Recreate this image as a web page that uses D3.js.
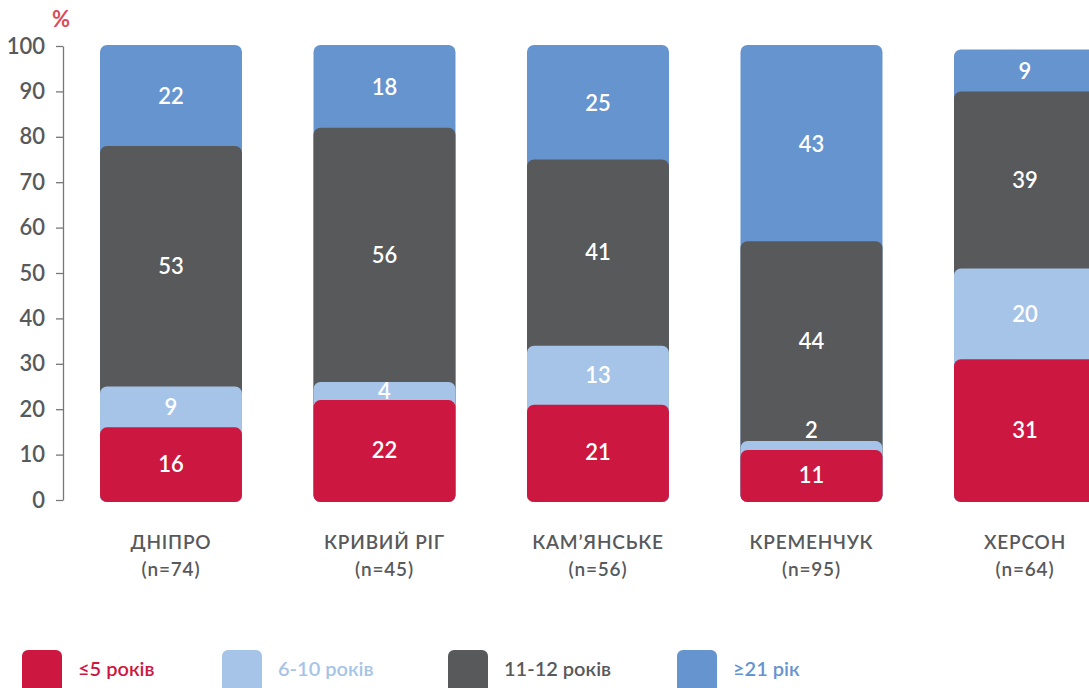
<!DOCTYPE html>
<html>
<head>
<meta charset="utf-8">
<script src="https://cdn.jsdelivr.net/npm/d3@7"></script>
<style>
  html, body { margin: 0; padding: 0; background: #fff; }
  svg { display: block; font-family: Lato, "Noto Sans", sans-serif; }
</style>
</head>
<body>
<svg id="chart" width="1089" height="688"></svg>
<script>
// Cities and sample sizes
const cities = ["ДНІПРО", "КРИВИЙ РІГ", "КАМ’ЯНСЬКЕ", "КРЕМЕНЧУК", "ХЕРСОН"];
const sampleSizes = [74, 45, 56, 95, 64];

// Share of respondents by age group, % (bottom to top of each bar)
const upTo5 = [16, 22, 21, 11, 31];
const from6to10 = [9, 4, 13, 2, 20];
const from11to12 = [53, 56, 41, 44, 39];
const over21 = [22, 18, 25, 43, 9];

const seriesNames = ["≤5 років", "6-10 років", "11-12 років", "≥21 рік"];
const seriesColors = ["#cc1840", "#a6c4e7", "#58595b", "#6594cf"];
const yTicks = [0, 10, 20, 30, 40, 50, 60, 70, 80, 90, 100];

const seriesValues = [upTo5, from6to10, from11to12, over21];
const rows = cities.map((c, i) => {
  const r = { city: c, n: sampleSizes[i] };
  seriesNames.forEach((s, k) => { r[s] = seriesValues[k][i]; });
  return r;
});

const svg = d3.select("#chart");
const textColor = "#58595b";

const x = d3.scaleBand()
  .domain(cities)
  .range([64.24, 1131.74])
  .paddingInner(0.335)
  .paddingOuter(0.1675);

const y = d3.scaleLinear().domain([0, 100]).range([500, 46]);

// Y axis
const yAxis = svg.append("g")
  .attr("transform", "translate(63,0)")
  .call(d3.axisLeft(y).tickValues(yTicks).tickSize(7).tickSizeOuter(0).tickPadding(11));
yAxis.select(".domain").attr("stroke", "#777").attr("stroke-width", 1.3);
yAxis.selectAll(".tick line").attr("stroke", "#777").attr("stroke-width", 1.3);
yAxis.selectAll(".tick text")
  .attr("fill", textColor)
  .style("font-size", "22px")
  .style("font-weight", 600)
  .style("font-family", "Lato, sans-serif");

svg.append("text")
  .attr("x", 61).attr("y", 27)
  .attr("text-anchor", "middle")
  .attr("fill", "#dd4a5a")
  .style("font-size", "22px")
  .style("font-weight", 700)
  .text("%");

// Stacked bars: each segment is a rounded rect reaching down to the base,
// painted top series first so lower segments overlap it.
const stack = d3.stack().keys(seriesNames)(rows);
const bars = svg.append("g");
for (let k = stack.length - 1; k >= 0; k--) {
  const layer = stack[k];
  bars.append("g")
    .selectAll("rect")
    .data(layer)
    .join("rect")
    .attr("x", d => x(d.data.city))
    .attr("width", x.bandwidth())
    .attr("y", d => y(d[1]) - (k === stack.length - 1 ? 1 : 0))
    .attr("height", d => y(0) + 2 - y(d[1]) + (k === stack.length - 1 ? 1 : 0))
    .attr("rx", 7).attr("ry", 7)
    .attr("fill", seriesColors[k]);
}

// Value labels
const labels = svg.append("g");
stack.forEach((layer, k) => {
  labels.selectAll(null)
    .data(layer)
    .join("text")
    .attr("x", d => x(d.data.city) + x.bandwidth() / 2)
    .attr("y", d => {
      const top = y(d[1]), bot = y(d[0]);
      if (bot - top < 14) return top - 11;
      return (top + bot) / 2;
    })
    .attr("dy", "0.36em")
    .attr("text-anchor", "middle")
    .attr("fill", "#fff")
    .style("font-size", "22px")
    .style("font-weight", 600)
    .text(d => d[1] - d[0]);
});

// Category labels
const xl = svg.append("g");
cities.forEach((c, i) => {
  const cx = x(c) + x.bandwidth() / 2;
  const t = xl.append("text")
    .attr("x", cx).attr("text-anchor", "middle")
    .attr("fill", textColor)
    .style("font-size", "19px")
    .style("font-weight", 600)
    .style("letter-spacing", "0.8px");
  t.append("tspan").attr("x", cx).attr("y", 549).text(c);
  t.append("tspan").attr("x", cx).attr("y", 576).text(`(n=${sampleSizes[i]})`);
});

// Legend
const legendX = [22, 222, 448, 677];
const legend = svg.append("g");
seriesNames.forEach((s, k) => {
  legend.append("rect")
    .attr("x", legendX[k]).attr("y", 650)
    .attr("width", 40).attr("height", 46)
    .attr("rx", 6).attr("ry", 6)
    .attr("fill", seriesColors[k]);
  legend.append("text")
    .attr("x", legendX[k] + 56).attr("y", 669)
    .attr("dy", "0.35em")
    .attr("fill", seriesColors[k])
    .style("font-size", "20px")
    .style("font-weight", 600)
    .text(s);
});
</script>
</body>
</html>
